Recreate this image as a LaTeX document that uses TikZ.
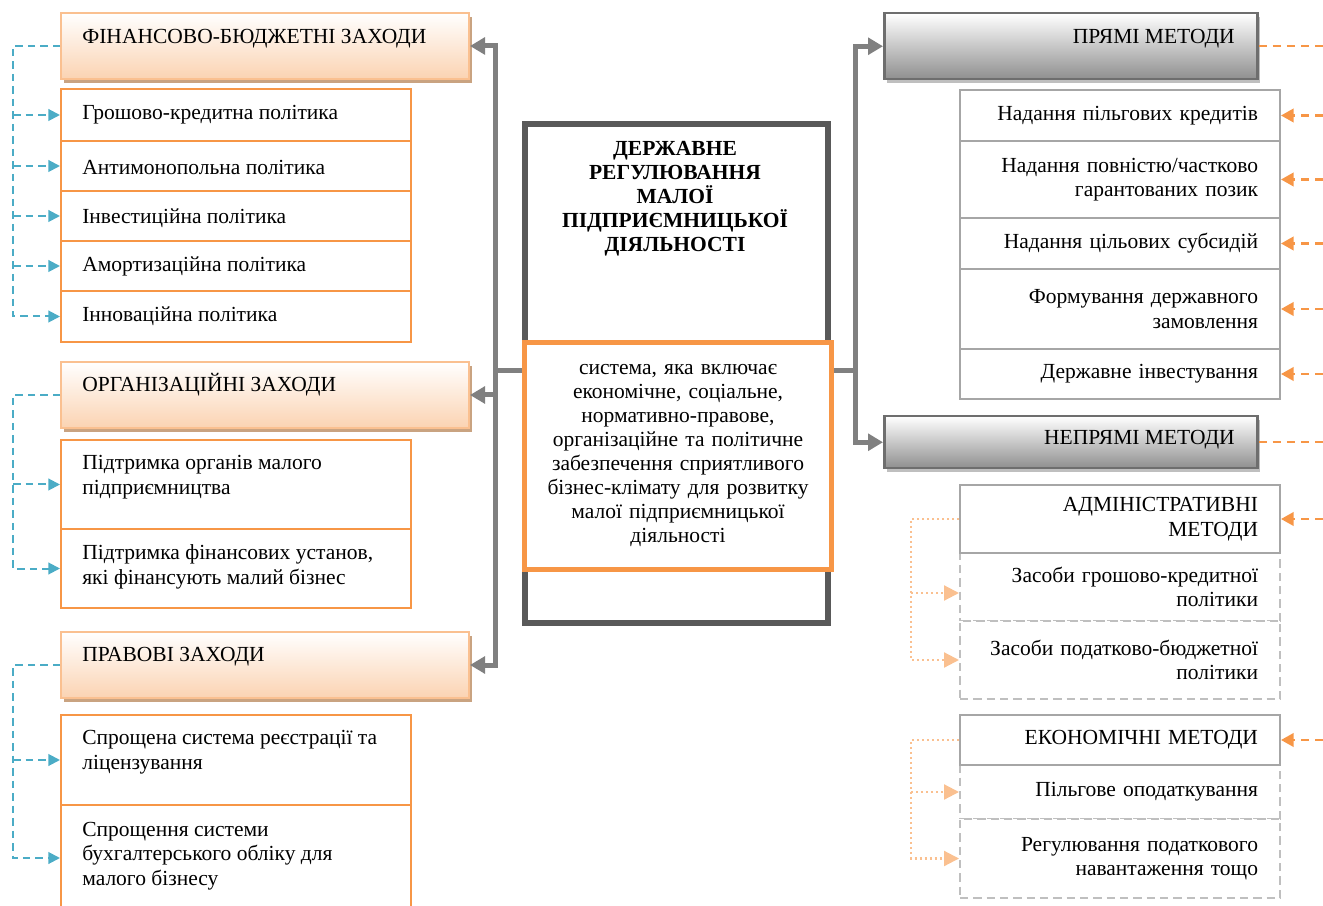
\documentclass[tikz,border=0pt]{standalone}
\usepackage{fontspec}
\setmainfont{Liberation Serif}
\usetikzlibrary{arrows.meta,shadows}

\definecolor{orng}{HTML}{F79646}
\definecolor{lorng}{HTML}{FAC090}
\definecolor{peach}{HTML}{FBD3B2}
\definecolor{shtan}{HTML}{C9A381}
\definecolor{cyn}{HTML}{4BACC6}
\definecolor{dgray}{HTML}{595959}
\definecolor{mgray}{HTML}{808080}
\definecolor{hgray}{HTML}{6E6E6E}
\definecolor{lgray}{HTML}{A6A6A6}
\definecolor{dsgray}{HTML}{BFBFBF}
\definecolor{bgray}{HTML}{8F8F8F}

\begin{document}
\begin{tikzpicture}[x=0.6pt,y=-0.6pt,
  font=\fontsize{12.9}{14.7}\selectfont,
  hdrL/.style={draw=lorng, line width=1.2pt, top color=white, bottom color=peach,
    minimum width=244.8pt, minimum height=39.6pt, anchor=north west,
    drop shadow={shadow xshift=1.8pt, shadow yshift=-2.4pt, fill=shtan, opacity=1}},
  hdrR/.style={draw=hgray, line width=1.5pt, top color=white, bottom color=bgray,
    minimum width=223.8pt, anchor=north west,
    drop shadow={shadow xshift=1.8pt, shadow yshift=-2.4pt, fill=dsgray, opacity=1}},
  itemL/.style={draw=orng, line width=1.2pt, fill=white, minimum width=210pt, anchor=north west},
  itemR/.style={draw=lgray, line width=1.2pt, fill=white, minimum width=192pt,
    text width=165.6pt, inner xsep=13.2pt, align=right, anchor=north west},
  itemD/.style={itemR, draw=dsgray, dash pattern=on 5pt off 3pt},
  lbl/.style={inner sep=0pt, align=left, anchor=west},
  conn/.style={draw=mgray, line width=3pt, -{Triangle[length=9pt,width=10pt]}},
  cyl/.style={draw=cyn, line width=1.2pt, dash pattern=on 4.5pt off 3pt},
  cya/.style={cyl, -{Triangle[length=7pt,width=7pt]}},
  orl/.style={draw=orng, line width=1.5pt, dash pattern=on 5pt off 3.5pt},
  ora/.style={orl, -{Triangle[length=7.5pt,width=8pt]}},
  dtl/.style={draw=lorng, line width=1.3pt, dash pattern=on 1.3pt off 1.7pt},
  dta/.style={dtl, -{Triangle[length=9pt,width=9pt]}}
]
\useasboundingbox (0,0) rectangle (1323,906);
\clip (0,0) rectangle (1323,906);

\coordinate (fv) at (13,0);
\coordinate (lj) at (495,371);
\coordinate (rj) at (855,371);
\coordinate (dv) at (911,0);
\coordinate (re) at (1323,0);

% left column
\node[hdrL] (fin) at (60,12) {};
\node[hdrL] (org) at (60,361) {};
\node[hdrL] (prav) at (60,631) {};
\node[itemL, minimum height=31.2pt] (f1) at (60,88) {};
\node[itemL, minimum height=30pt] (f2) at (60,140) {};
\node[itemL, minimum height=30pt] (f3) at (60,190) {};
\node[itemL, minimum height=30pt] (f4) at (60,240) {};
\node[itemL, minimum height=30.6pt] (f5) at (60,290) {};
\node[itemL, minimum height=53.4pt] (o1) at (60,439) {};
\node[itemL, minimum height=47.4pt] (o2) at (60,528) {};
\node[itemL, minimum height=54pt] (p1) at (60,714) {};
\node[itemL, minimum height=63.6pt] (p2) at (60,804) {};

\node[lbl] (fin-t) at (82,39) {ФІНАНСОВО-БЮДЖЕТНІ ЗАХОДИ};
\node[lbl] (f1-t) at (82,115) {Грошово-кредитна політика};
\node[lbl] (f2-t) at (82,167) {Антимонопольна політика};
\node[lbl] (f3-t) at (82,218) {Інвестиційна політика};
\node[lbl] (f4-t) at (82,266) {Амортизаційна політика};
\node[lbl] (f5-t) at (82,316) {Інноваційна політика};
\node[lbl] (org-t) at (82,385) {ОРГАНІЗАЦІЙНІ ЗАХОДИ};
\node[lbl] (o1-t) at (82,477) {Підтримка органів малого\\підприємництва};
\node[lbl] (o2-t) at (82,567) {Підтримка фінансових установ,\\які фінансують малий бізнес};
\node[lbl] (prav-t) at (82,657) {ПРАВОВІ ЗАХОДИ};
\node[lbl] (p1-t) at (82,752) {Спрощена система реєстрації та\\ліцензування};
\node[lbl] (p2-t) at (82,856) {Спрощення системи\\бухгалтерського обліку для\\малого бізнесу};

% centre
\node[draw=dgray, line width=3.6pt, minimum width=182pt, minimum height=299.4pt, anchor=north west] (dsr) at (522,121) {};
\node[font=\bfseries\fontsize{12.9}{14.4}\selectfont, align=center] (dsr-t) at (675,199)
  {ДЕРЖАВНЕ\\РЕГУЛЮВАННЯ\\МАЛОЇ\\ПІДПРИЄМНИЦЬКОЇ\\ДІЯЛЬНОСТІ};
\node[draw=orng, line width=3pt, fill=white, minimum width=184.2pt, minimum height=136.2pt,
  text width=172pt, align=center, anchor=north west,
  font=\fontsize{12.9}{14.4}\selectfont] (sys) at (522,340)
  {система, яка включає\\економічне, соціальне,\\нормативно-правове,\\організаційне та політичне\\забезпечення сприятливого\\бізнес-клімату для розвитку\\малої підприємницької\\діяльності};

% right column
\node[hdrR, minimum height=39.6pt] (pr) at (883,12) {};
\node[hdrR, minimum height=31.2pt] (nepr) at (883,415) {};
\node[lbl, anchor=east] (pr-t) at (1235,39) {ПРЯМІ МЕТОДИ};
\node[lbl, anchor=east] (nepr-t) at (1235,440) {НЕПРЯМІ МЕТОДИ};

\node[itemR, minimum height=30.6pt] (m1) at (959,89) {Надання пільгових кредитів};
\node[itemR, minimum height=46.2pt] (m2) at (959,140) {Надання повністю/частково\\гарантованих позик};
\node[itemR, minimum height=30.6pt] (m3) at (959,217) {Надання цільових субсидій};
\node[itemR, minimum height=48pt] (m4) at (959,268) {Формування державного\\замовлення};
\node[itemR, minimum height=30pt] (m5) at (959,348) {Державне інвестування};

\node[itemD, minimum height=40.8pt] (a1) at (959,552) {Засоби грошово-кредитної\\політики};
\node[itemD, minimum height=46.8pt] (a2) at (959,620) {Засоби податково-бюджетної\\політики};
\node[itemR, minimum height=40.8pt] (adm) at (959,484) {АДМІНІСТРАТИВНІ\\МЕТОДИ};
\node[itemD, minimum height=32.4pt] (e1) at (959,764) {Пільгове оподаткування};
\node[itemD, minimum height=47.4pt] (e2) at (959,818) {Регулювання податкового\\навантаження тощо};
\node[itemR, minimum height=30pt] (ek) at (959,714) {ЕКОНОМІЧНІ МЕТОДИ};

% connectors
\draw[draw=mgray, line width=3pt] (sys.west |- lj) -- (lj);
\draw[conn] (lj) |- (fin.east);
\draw[conn] (lj) |- (org.east);
\draw[conn] (lj) |- (prav.east);
\draw[draw=mgray, line width=3pt] (sys.east |- rj) -- (rj);
\draw[conn] (rj) |- (pr.west);
\draw[conn] (rj) |- (nepr.west);

\draw[cya] (fin.west) -| (fv |- f5.west) -- (f5.west);
\foreach \b in {f1,f2,f3,f4} \draw[cya] (fv |- \b.west) -- (\b.west);
\draw[cya] (org.west) -| (fv |- o2.west) -- (o2.west);
\draw[cya] (fv |- o1.west) -- (o1.west);
\draw[cya] (prav.west) -| (fv |- p2.west) -- (p2.west);
\draw[cya] (fv |- p1.west) -- (p1.west);

\draw[orl] (pr.east) -- (re |- pr.east);
\draw[orl] (nepr.east) -- (re |- nepr.east);
\foreach \b in {m1,m2,m3,m4,m5,adm,ek} \draw[ora] (re |- \b.east) -- (\b.east);

\coordinate (a1in) at ([yshift=-3.6pt]a1.west);
\draw[dta] (adm.west) -| (dv |- a2.west) -- (a2.west);
\draw[dta] (dv |- a1in) -- (a1in);
\draw[dta] (ek.west) -| (dv |- e2.west) -- (e2.west);
\draw[dta] (dv |- e1.west) -- (e1.west);
\end{tikzpicture}
\end{document}
